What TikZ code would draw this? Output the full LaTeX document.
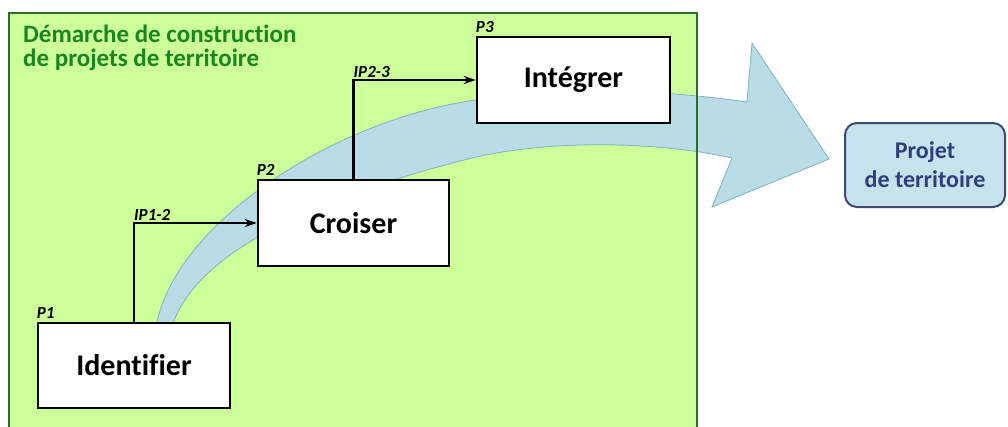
\documentclass[tikz,border=0pt]{standalone}
\usepackage{fontspec}
\setmainfont{Carlito}[Ligatures=NoCommon]
\usetikzlibrary{arrows.meta}

\definecolor{panelgreen}{HTML}{CCFF99}
\definecolor{paneledge}{HTML}{2F6B2F}
\definecolor{titlegreen}{HTML}{1C851C}
\definecolor{flowfill}{HTML}{B9DCE6}
\definecolor{flowedge}{HTML}{7FB3C2}
\definecolor{goalfill}{HTML}{C6E2EC}
\definecolor{goaledge}{HTML}{3B4C70}
\definecolor{goaltext}{HTML}{2E3F7C}

\tikzset{
  stepbox/.style={draw=black, line width=2.5pt, fill=white, inner sep=0pt,
    font=\bfseries\fontsize{30}{34}\selectfont},
  plabel/.style={inner sep=0pt, font=\bfseries\itshape\fontsize{17}{19}\selectfont},
  link/.style={line width=2.2pt, -{Stealth[length=12pt,width=8pt]}},
  flow/.style={fill=flowfill, draw=flowedge, line width=0.8pt, line join=miter},
  goal/.style={draw=goaledge, fill=goalfill, line width=2pt, rounded corners=12pt,
    minimum width=160pt, minimum height=84pt, align=center, text=goaltext,
    font=\bfseries\fontsize{24}{29}\selectfont},
}

\begin{document}
\begin{tikzpicture}[x=1pt, y=-1pt]
  \useasboundingbox (0,0) rectangle (1008,426);
  \clip (0,0) rectangle (1008,426);
  \fill[white] (0,0) rectangle (1008,426);

  % green working area
  \fill[panelgreen] (9,13) rectangle (697,440);

  % broad curved arrow running through the three steps
  \path[flow]
    (155,335) .. controls (165,230) and (330,120) .. (476,100)
              .. controls (560,88) and (650,88) .. (747,102)
    -- (752,43) -- (829,159) -- (712,207) -- (732,158)
    .. controls (650,140) and (540,140) .. (464,160)
    .. controls (300,202) and (185,260) .. (170,335)
    -- cycle;

  % border of the working area
  \draw[paneledge, line width=2.5pt] (9,440) -- (9,13) -- (697,13) -- (697,440);

  \node[anchor=base west, inner sep=0pt, align=left, text=titlegreen,
        font=\bfseries\fontsize{25}{24}\selectfont] (title) at (23,66)
        {Démarche de construction\\de projets de territoire};

  % the three steps
  \node[stepbox, minimum width=192pt, minimum height=85pt] (ident) at (134,365.5) {Identifier};
  \node[stepbox, minimum width=191pt, minimum height=86pt] (crois) at (353.5,223) {Croiser};
  \node[stepbox, minimum width=193pt, minimum height=86pt] (integ) at (573.5,80) {Intégrer};

  \node[plabel, anchor=base west] (p1) at ([yshift=3pt]ident.north west) {P1};
  \node[plabel, anchor=base west] (p2) at ([yshift=3pt]crois.north west) {P2};
  \node[plabel, anchor=base west] (p3) at ([yshift=3pt]integ.north west) {P3};

  % links between steps
  \draw[link] (ident.north) |- (crois.west);
  \draw[link] (crois.north) |- (integ.west);
  \node[plabel, anchor=base west] (ip12) at ([yshift=3pt]ident.north |- crois.west) {IP1-2};
  \node[plabel, anchor=base west] (ip23) at ([yshift=3pt]crois.north |- integ.west) {IP2-3};

  % outcome
  \node[goal] (projet) at (925,165) {Projet\\de territoire};
\end{tikzpicture}
\end{document}
